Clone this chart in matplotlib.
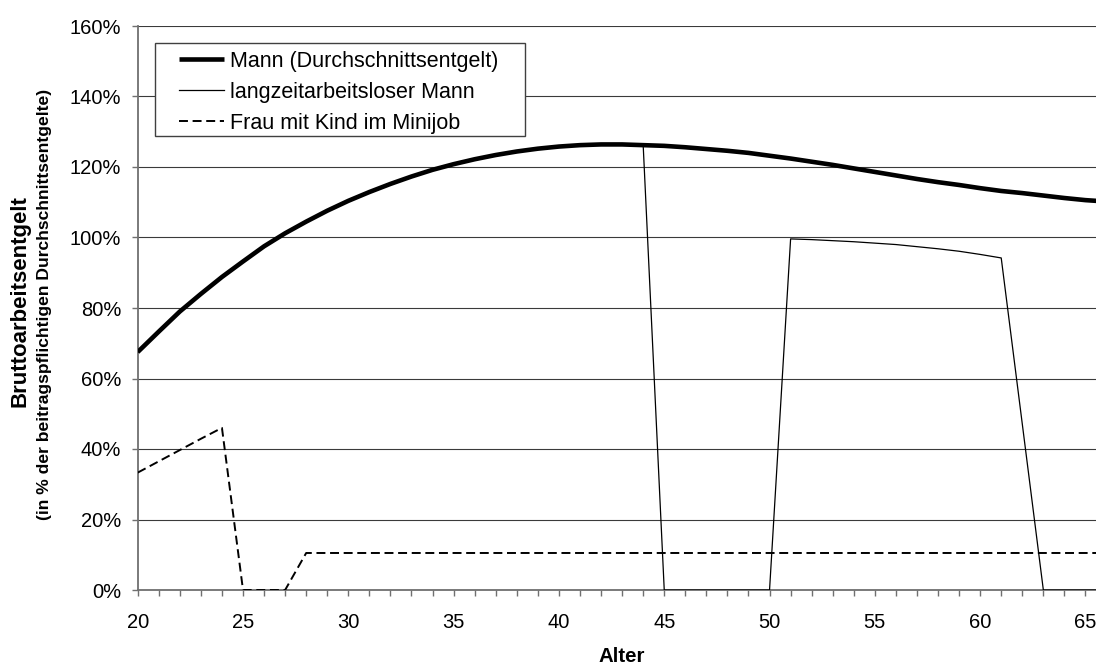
import matplotlib
matplotlib.use("Agg")
import matplotlib.pyplot as plt
from matplotlib.patches import Rectangle
from matplotlib.ticker import MultipleLocator, PercentFormatter

plt.rcParams["font.family"] = ["Liberation Sans", "DejaVu Sans"]

# Alter in Jahren
alter = list(range(20, 67))

# Mann (Durchschnittsentgelt), in % der Durchschnittsentgelte
mann = [67.5, 73.3, 79.0, 84.0, 88.8, 93.2, 97.5, 101.2, 104.5, 107.6,
        110.4, 112.9, 115.2, 117.3, 119.2, 120.8, 122.2, 123.4, 124.4, 125.2,
        125.8, 126.2, 126.4, 126.4, 126.2, 126.0, 125.6, 125.1, 124.6, 124.0,
        123.2, 122.4, 121.5, 120.6, 119.6, 118.6, 117.6, 116.6, 115.7, 114.9,
        114.0, 113.2, 112.6, 111.9, 111.2, 110.6, 110.2]

# langzeitarbeitsloser Mann: bis 44 wie der Durchschnittsmann
alter_lz = list(range(20, 45)) + [45, 50] + list(range(51, 62)) + [63, 66]
langzeit = mann[:25] + [0, 0] + [99.6, 99.4, 99.1, 98.8, 98.4, 98.0, 97.4,
                                 96.8, 96.1, 95.2, 94.2] + [0, 0]

# Frau mit Kind im Minijob
alter_frau = [20, 21, 22, 23, 24, 25, 26, 27, 28, 66]
frau = [33.3, 36.5, 39.7, 42.9, 46.0, 0, 0, 0, 10.5, 10.5]

fig = plt.figure(figsize=(10.96, 6.66), dpi=100)
ax = fig.add_axes([137.7 / 1096, 1 - 590 / 666, 1 - 137.7 / 1096, (590 - 26) / 666])

ax.plot(alter, mann, color="black", lw=3.3, solid_capstyle="butt",
        label="Mann (Durchschnittsentgelt)", zorder=3)
ax.plot(alter_lz, langzeit, color="black", lw=0.9,
        label="langzeitarbeitsloser Mann", zorder=4)
ax.plot(alter_frau, frau, color="black", lw=1.4, dashes=(4.6, 2.4),
        label="Frau mit Kind im Minijob", zorder=4)

ax.set_xlim(20, 65.5)
ax.set_ylim(0, 160)
ax.xaxis.set_major_locator(MultipleLocator(5))
ax.xaxis.set_minor_locator(MultipleLocator(1))
ax.yaxis.set_major_locator(MultipleLocator(20))
ax.yaxis.set_major_formatter(PercentFormatter(decimals=0))

ax.grid(axis="y", color="#3a3a3a", lw=0.8, zorder=1)
ax.set_axisbelow(True)
for s in ["top", "right"]:
    ax.spines[s].set_visible(False)
for s in ["left", "bottom"]:
    ax.spines[s].set_color("#707070")
    ax.spines[s].set_linewidth(1.3)

ax.tick_params(axis="x", which="both", length=4.5, width=1, color="#707070",
               labelsize=14.5, pad=12)
ax.tick_params(axis="y", length=4, width=1, color="#707070", labelsize=14.5,
               pad=8)

fig.text(622 / 1096, 4 / 666, "Alter", ha="center", va="baseline",
         fontsize=14.7, fontweight="bold")
fig.text(20.5 / 1096, 1 - 301.5 / 666, "Bruttoarbeitsentgelt", rotation=90,
         ha="center", va="center", fontsize=16, fontweight="bold")
fig.text(45 / 1096, 1 - 304.5 / 666,
         "(in % der beitragspflichtigen Durchschnittsentgelte)", rotation=90,
         ha="center", va="center", fontsize=12.6, fontweight="bold")

# Legende mit eckigem Rahmen
ax.add_patch(Rectangle((155 / 1096, 1 - 136 / 666), (525 - 155) / 1096,
                       (136 - 43) / 666, transform=fig.transFigure,
                       facecolor="white", edgecolor="#404040", lw=1,
                       clip_on=False, zorder=5))
leg = ax.legend(loc="upper left", bbox_to_anchor=(179 / 1096, 1 - 51 / 666),
                bbox_transform=fig.transFigure, frameon=False, fontsize=15.5,
                handlelength=2.1, handletextpad=0.25, labelspacing=0.46,
                borderpad=0, borderaxespad=0)
leg.set_zorder(6)

fig.savefig("out.png", dpi=100)
